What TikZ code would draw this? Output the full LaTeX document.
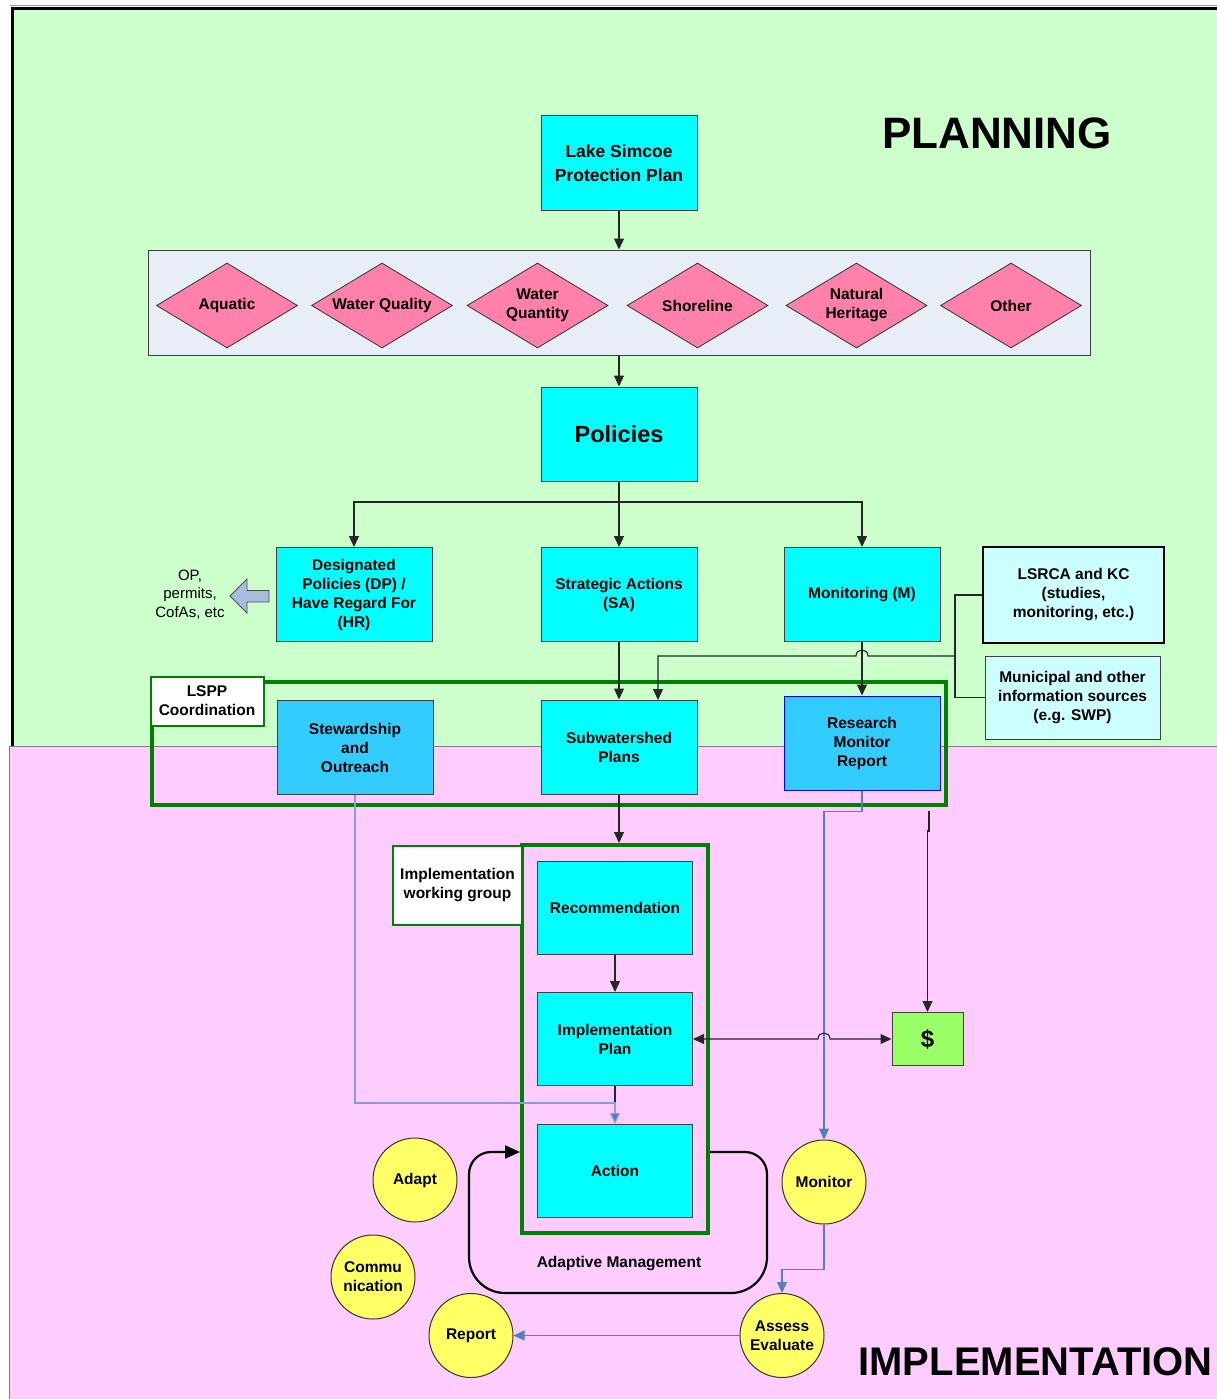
\documentclass[tikz,border=0pt]{standalone}
\usepackage{fontspec}
\setmainfont{Liberation Sans}
\usetikzlibrary{arrows.meta,shapes.geometric,calc}
\definecolor{bggreen}{HTML}{CCFFCC}
\definecolor{bgpink}{HTML}{FFCCFF}
\definecolor{cyanbox}{HTML}{00FFFF}
\definecolor{skybox}{HTML}{33CCFF}
\definecolor{lightcyan}{HTML}{CCFFFF}
\definecolor{bandfill}{HTML}{E8EEF7}
\definecolor{diampink}{HTML}{FF80AA}
\definecolor{circyellow}{HTML}{FFFF66}
\definecolor{dollargreen}{HTML}{99FF66}
\definecolor{lineblue}{HTML}{4F7FC8}
\definecolor{paleblue}{HTML}{8A9CDC}
\definecolor{arrowblue}{HTML}{A9BCE0}
\definecolor{framegreen}{HTML}{008000}
\begin{document}
\begin{tikzpicture}[x=1pt,y=-1pt,
  txt/.style={font={\fontsize{15.5}{19}\selectfont\bfseries}, align=center, text=black},
  cbox/.style={txt, draw=black!75, line width=1pt, fill=cyanbox, minimum width=156pt, minimum height=94pt, inner sep=0pt},
  sbox/.style={cbox, fill=skybox},
  ibox/.style={txt, draw=black!75, line width=1pt, fill=lightcyan, inner sep=0pt},
  diam/.style={diamond, draw=black!80, line width=0.8pt, fill=diampink, minimum width=141pt, minimum height=85pt, inner sep=0pt},
  lbl/.style={txt, inner sep=0pt},
  circ/.style={txt, circle, draw=black!80, line width=1pt, fill=circyellow, minimum size=84pt, inner sep=0pt},
  gframe/.style={draw=framegreen, line width=4pt, inner sep=0pt},
  glabel/.style={txt, draw=framegreen, line width=2pt, fill=white, inner sep=0pt},
  ln/.style={draw=black!85, line width=1.1pt},
  arr/.style={ln, -{Triangle[length=11pt,width=10pt]}},
  arrtwo/.style={ln, {Triangle[length=11pt,width=10pt]}-{Triangle[length=11pt,width=10pt]}},
  bluearr/.style={draw=lineblue, line width=1.1pt, -{Triangle[length=11pt,width=10pt]}},
  palearr/.style={draw=paleblue, line width=1.1pt, -{Triangle[length=11pt,width=10pt,fill=lineblue]}},
]
\useasboundingbox (0,0) rectangle (1217,1399);
\fill[white] (0,0) rectangle (1217,1399);
% backgrounds
\fill[bggreen] (12,8) rectangle (1217,746);
\draw[black!40, line width=1pt] (10,6) -- (1217,6);
\draw[black, line width=3pt] (12.5,746) -- (12.5,8.5) -- (1217,8.5);
\fill[bgpink] (9,746) rectangle (1217,1399);
\draw[black!50, line width=1pt] (9.5,1399) -- (9.5,746.5) -- (1217,746.5);

% titles
\node[font={\fontsize{44}{50}\selectfont\bfseries}, inner sep=0pt] (planning) at (997,133) {PLANNING};
\node[font={\fontsize{40}{46}\selectfont\bfseries}, inner sep=0pt] (implementation) at (1035.5,1362) {IMPLEMENTATION};

% top part
\node[cbox, font={\fontsize{17.5}{24}\selectfont\bfseries}] (lspp) at (619,163) {Lake Simcoe\\Protection Plan};
\node[draw=black!75, line width=1pt, fill=bandfill, minimum width=942pt, minimum height=105pt, inner sep=0pt] (band) at (619,302.5) {};
\node[diam, label={[lbl]center:Aquatic}] (aq) at (227,305.5) {};
\node[diam, label={[lbl]center:Water Quality}] (wql) at (382,305.5) {};
\node[diam, label={[lbl]center:{Water\\Quantity}}] (wqt) at (537.5,305.5) {};
\node[diam, label={[lbl]center:Shoreline}] (shore) at (697.5,305.5) {};
\node[diam, label={[lbl]center:{Natural\\Heritage}}] (nh) at (856.5,305.5) {};
\node[diam, label={[lbl]center:Other}] (other) at (1011,305.5) {};

\node[cbox, font={\fontsize{23.5}{28}\selectfont\bfseries}] (pol) at (619,434) {Policies};

\node[cbox] (dp) at (354,594.5) {Designated\\Policies (DP) /\\Have Regard For\\(HR)};
\node[cbox] (sa) at (619,594.5) {Strategic Actions\\(SA)};
\node[cbox] (mon) at (862,594.5) {Monitoring (M)};

\node[font={\fontsize{15}{18.5}\selectfont}, align=center, inner sep=0pt] (op) at (190,594.5) {OP,\\permits,\\CofAs, etc};
\draw[fill=arrowblue, draw=black!70, line width=0.8pt] (230,596) -- (247,579) -- (247,590.5) -- (269,590.5) -- (269,602) -- (247,602) -- (247,613) -- cycle;

\node[ibox, line width=2pt, draw=black, minimum width=181pt, minimum height=96pt] (lsrca) at (1073.5,595) {LSRCA and KC\\(studies,\\monitoring, etc.)};
\node[ibox, minimum width=175pt, minimum height=83pt] (muni) at (1072.5,697.5) {Municipal and other\\information sources\\(e.g. SWP)};

% LSPP coordination frame
\node[gframe, minimum width=794pt, minimum height=123pt] (lsppframe) at (549,743.5) {};
\node[sbox] (stew) at (355,747.5) {Stewardship\\and\\Outreach};
\node[cbox] (swp) at (619,747) {Subwatershed\\Plans};
\node[sbox, draw=blue] (rmr) at (862,743) {Research\\Monitor\\Report};
\node[glabel, minimum width=113pt, minimum height=49pt] (lsppl) at (207,701) {LSPP\\Coordination};

% implementation frame
\node[gframe, minimum width=186pt, minimum height=388pt] (impl) at (615,1039) {};
\node[glabel, minimum width=129pt, minimum height=79pt] (impll) at (457.5,885) {Implementation\\working group};
\node[cbox, minimum width=155pt, minimum height=93pt] (rec) at (615,907.5) {Recommendation};
\node[cbox, minimum width=155pt, minimum height=93pt] (ip) at (615,1039) {Implementation\\Plan};
\node[cbox, minimum width=155pt, minimum height=93pt] (act) at (615,1171) {Action};

\node[txt, draw=black!75, line width=1pt, fill=dollargreen, minimum width=71pt, minimum height=53pt, inner sep=0pt, font={\fontsize{24}{28}\selectfont\bfseries}] (dollar) at (927.5,1039) {\$};

% circles
\node[circ] (adapt) at (415,1180) {Adapt};
\node[circ] (comm) at (373,1277) {Commu\\nication};
\node[circ] (report) at (471,1335.5) {Report};
\node[circ] (assess) at (782,1335.5) {Assess\\Evaluate};
\node[circ] (monitor) at (824,1182) {Monitor};

\node[txt, inner sep=0pt] (amtext) at (619,1264) {Adaptive Management};

% connectors
\draw[arr] (lspp.south) -- (band.north);
\draw[arr] (band.south) -- (pol.north);
\draw[arr] (pol.south) -- (sa.north);
\coordinate (br) at (619,502);
\draw[arr] (br) -| (dp.north);
\draw[arr] (br) -| (mon.north);
\draw[arr] (sa.south) -- (swp.north);
\draw[arr] (mon.south) -- (rmr.north);

\coordinate (bj) at (955,656);
\draw[ln] (lsrca.west) -| (bj);
\draw[ln] (muni.west) -| (bj);
\draw[arr] (bj) -- (868,656) .. controls (868,648) and (856,648) .. (856,656) -- (658,656) -- (658,700);

\draw[arr] (swp.south) -- (swp.south |- impl.north);
\draw[arr] (rec.south) -- (ip.north);
\draw[ln] (ip.south) -- ++(0,17);
\draw[palearr] (stew.south) |- (615,1103) -- (act.north);

\draw[bluearr] (rmr.south) -- ++(0,21) -| (monitor.north);
\coordinate (dsrc) at (929,811);
\draw[arr] (dsrc) -- (929,831) -- (927.5,831) -- (dollar.north);
\draw[arrtwo] (ip.east) -- (818,1039) .. controls (818,1031) and (830,1031) .. (830,1039) -- (dollar.west);

\draw[bluearr] (monitor.south) -- ++(0,45) -| (assess.north);
\draw[bluearr] (assess.west) -- (report.east);

% adaptive management loop
\draw[draw=black, line width=2.2pt, -{Triangle[length=15pt,width=13pt]}]
  (impl.east |- 0,1152) -- (745,1152) .. controls (757.1,1152) and (767,1161.9) .. (767,1174)
  -- (767,1257) .. controls (767,1276.9) and (750.9,1293) .. (731,1293)
  -- (505,1293) .. controls (485.1,1293) and (469,1276.9) .. (469,1257)
  -- (469,1174) .. controls (469,1161.9) and (478.9,1152) .. (491,1152)
  -- (impl.west |- 0,1152);
\end{tikzpicture}
\end{document}
